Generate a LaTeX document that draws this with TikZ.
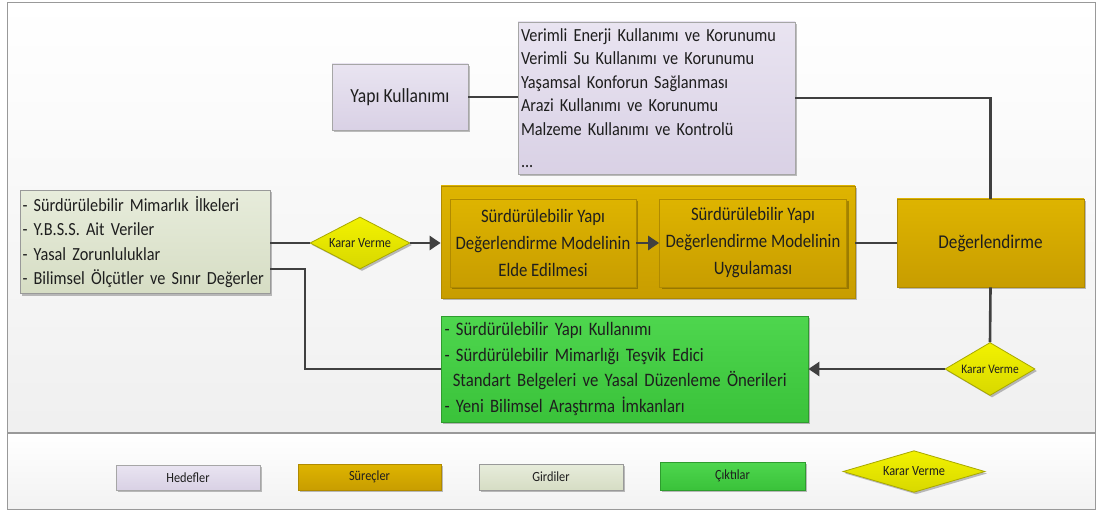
\documentclass[tikz,border=0pt]{standalone}
\usepackage{fontspec}
\setmainfont{Carlito}[FakeStretch=0.88]
\usetikzlibrary{shapes.geometric,arrows.meta,shadows}
\definecolor{linec}{HTML}{404040}
\definecolor{txt}{HTML}{1E1E1E}
\newcommand\tsz[2]{\fontsize{#1}{#2}\selectfont}
\begin{document}
\begin{tikzpicture}[x=1pt,y=-1pt,
  every node/.style={text=txt,inner sep=0pt},
  shad/.style={drop shadow={shadow xshift=2pt,shadow yshift=-2pt,opacity=0.25,fill=black}},
  hedbox/.style={draw=black!35,line width=0.8pt,top color=HedT,bottom color=HedB,shad},
  procbox/.style={draw=ProcL,line width=0.8pt,top color=ProcT,bottom color=ProcB,shad},
  girbox/.style={draw=black!40,line width=0.8pt,top color=GirT,bottom color=GirB,shad},
  outbox/.style={draw=OutL,line width=0.8pt,top color=OutT,bottom color=OutB,shad},
  kvd/.style={diamond,draw=KvL,line width=0.8pt,top color=KvT,bottom color=KvB,shad,aspect=1.9,inner sep=0pt},
  conn/.style={draw=linec,line width=2.6pt},
  arr/.style={conn,-{Triangle[length=11pt,width=14pt]}},
]
\definecolor{HedT}{HTML}{E9E4F1}
\definecolor{HedB}{HTML}{D9D1E5}
\definecolor{ProcT}{HTML}{DEB400}
\definecolor{ProcB}{HTML}{C89D00}
\definecolor{ProcL}{HTML}{B08A00}
\definecolor{GirT}{HTML}{E7ECDB}
\definecolor{GirB}{HTML}{D6DDC4}
\definecolor{OutT}{HTML}{4ED64E}
\definecolor{OutB}{HTML}{3AC23A}
\definecolor{OutL}{HTML}{2E9C2E}
\definecolor{KvT}{HTML}{F2F200}
\definecolor{KvB}{HTML}{D8D800}
\definecolor{KvL}{HTML}{A8A800}
% background and frame
\useasboundingbox (0,0) rectangle (1097,513);
\shade[top color=white,bottom color=black!6] (7,3) rectangle (1095,433);
\shade[top color=white,bottom color=black!5] (7,433) rectangle (1095,509);
\draw[black!40,line width=1pt] (7,3) rectangle (1095,509);
\draw[black!40,line width=1.2pt] (7,433) -- (1095,433);

% top row
\node[hedbox,minimum width=136pt,minimum height=66pt,font=\tsz{20}{22}] (yk) at (400,97) {Yapı Kullanımı};
\node[hedbox,minimum width=277pt,minimum height=152pt,text width=271pt,align=left,font=\tsz{18.5}{23.5}] (goals) at (656.5,98) {Verimli Enerji Kullanımı ve Korunumu\\Verimli Su Kullanımı ve Korunumu\\Yaşamsal Konforun Sağlanması\\Arazi Kullanımı ve Korunumu\\Malzeme Kullanımı ve Kontrolü\\[9pt]...};

% middle row
\node[girbox,minimum width=250pt,minimum height=103pt,text width=245pt,align=left,font=\tsz{18.5}{24.5}] (gird) at (145,242) {- Sürdürülebilir Mimarlık İlkeleri\\- Y.B.S.S. Ait Veriler\\- Yasal Zorunluluklar\\- Bilimsel Ölçütler ve Sınır Değerler};
\node[kvd,minimum width=100pt,minimum height=52pt,font=\tsz{14}{15}] (kv1) at (360,243) {Karar Verme};
\node[procbox,minimum width=414pt,minimum height=112pt] (cont) at (648,242) {};
\node[procbox,minimum width=186pt,minimum height=88pt,align=center,font=\tsz{19}{27}] (p1) at (543,243) {Sürdürülebilir Yapı\\Değerlendirme Modelinin\\Elde Edilmesi};
\node[procbox,minimum width=187pt,minimum height=88pt,align=center,font=\tsz{19}{27}] (p2) at (753,243) {Sürdürülebilir Yapı\\Değerlendirme Modelinin\\Uygulaması};
\node[procbox,minimum width=187pt,minimum height=88pt,font=\tsz{19.5}{22}] (deg) at (990.5,243) {Değerlendirme};

% bottom row
\node[outbox,minimum width=367pt,minimum height=106pt,text width=360pt,align=left,font=\tsz{19}{25.5}] (out) at (624.5,369) {- Sürdürülebilir Yapı Kullanımı\\- Sürdürülebilir Mimarlığı Teşvik Edici\\\hphantom{-}\,Standart Belgeleri ve Yasal Düzenleme Önerileri\\- Yeni Bilimsel Araştırma İmkanları};
\node[kvd,minimum width=90pt,minimum height=53pt,font=\tsz{13}{15}] (kv2) at (990,369) {Karar Verme};

% connectors
\coordinate (bend) at (305,269);
\draw[conn] (yk.east) -- (goals.west |- yk.east);
\draw[conn] (goals.east) -| (deg.north);
\draw[conn] (gird.east |- kv1.west) -- (kv1.west);
\draw[arr] (kv1.east) -- (cont.west |- kv1.east);
\draw[arr] (p1.east) -- (p2.west);
\draw[conn] (cont.east |- deg.west) -- (deg.west);
\draw[conn] (deg.south) -- (kv2.north);
\draw[arr] (kv2.west) -- (out.east |- kv2.west);
\draw[conn] (out.west) -| (bend) -- (gird.east |- bend);

% legend
\node[hedbox,minimum width=144pt,minimum height=25pt,font=\tsz{14}{15}] (l1) at (188,477.5) {Hedefler};
\node[procbox,minimum width=143pt,minimum height=26pt,font=\tsz{14}{15}] (l2) at (369.5,477) {Süreçler};
\node[girbox,minimum width=144pt,minimum height=26pt,font=\tsz{14}{15}] (l3) at (551,477) {Girdiler};
\node[outbox,minimum width=145pt,minimum height=28pt,font=\tsz{14}{15}] (l4) at (732.5,476) {Çıktılar};
\node[kvd,minimum width=142pt,minimum height=35pt,font=\tsz{14}{15}] (l5) at (914,471.5) {Karar Verme};
\end{tikzpicture}
\end{document}
